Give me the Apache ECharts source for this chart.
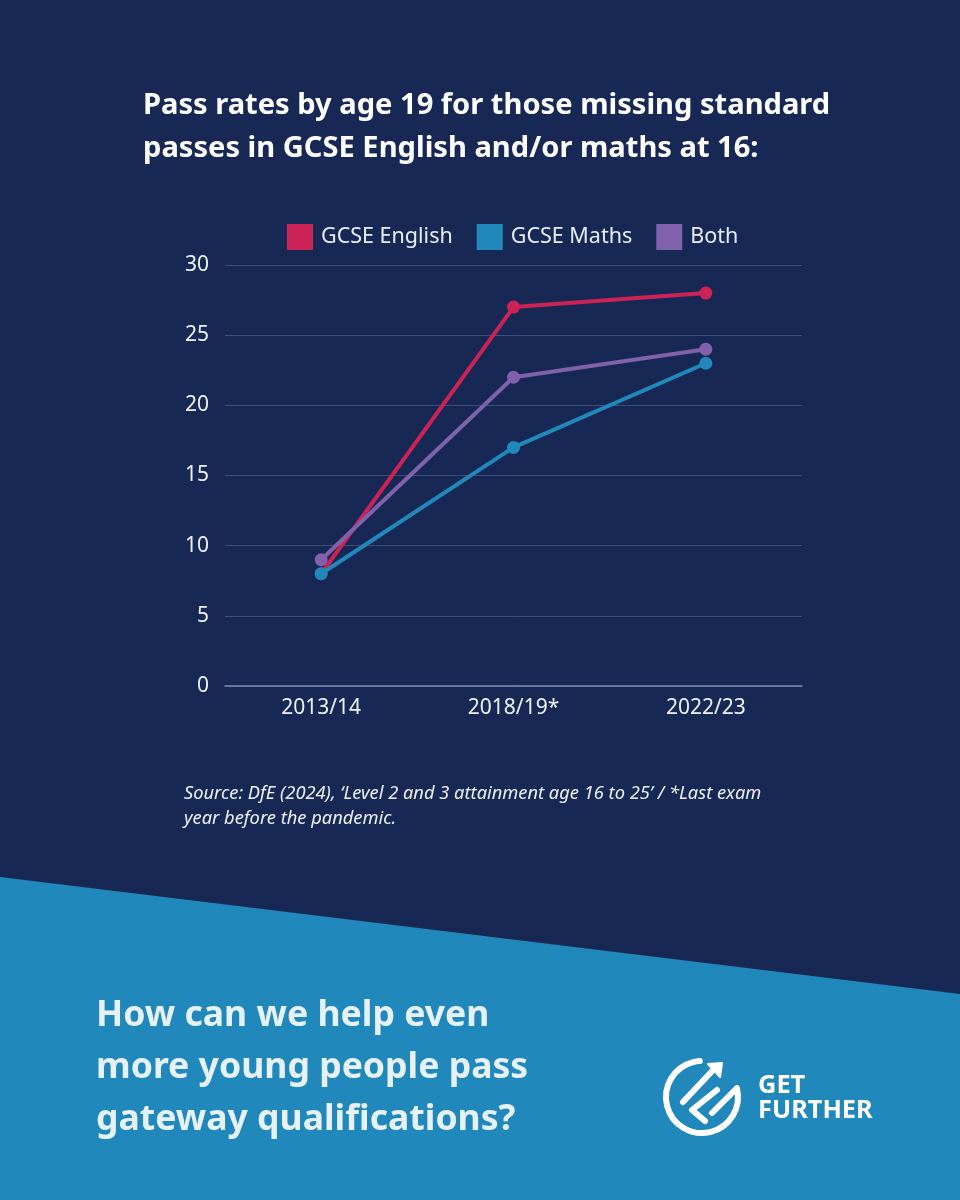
<!DOCTYPE html>
<html><head><meta charset="utf-8">
<style>html,body{margin:0;padding:0;background:#182854}#c{width:960px;height:1200px}</style>
<script src="https://cdn.jsdelivr.net/npm/echarts@6/dist/echarts.min.js"></script>
</head><body><div id="c"></div>
<script>
const categories = ['2013/14', '2018/19*', '2022/23'];
const english = [8, 27, 28];
const maths = [8, 17, 23];
const both = [9, 22, 24];
const yTicks = {min: 0, max: 30, interval: 5};
const titleLines = 'Pass rates by age 19 for those missing standard\npasses in GCSE English and/or maths at 16:';
const sourceLines = 'Source: DfE (2024), ‘Level 2 and 3 attainment age 16 to 25’ / *Last exam\nyear before the pandemic.';
const promptLines = 'How can we help even\nmore young people pass\ngateway qualifications?';
const BODY = '"Noto Sans", sans-serif';
const HEAD = '"Noto Sans", sans-serif';
const white = '#ffffff';
const mk = (name, data, color, z) => ({
  name, data, type: 'line', color, z,
  symbol: 'circle', symbolSize: 13, showSymbol: true,
  lineStyle: {width: 4, color}, itemStyle: {color}
});
const chart = echarts.init(document.getElementById('c'), null, {renderer: 'canvas', width: 960, height: 1200});
const logoStroke = {stroke: white, lineWidth: 6, lineCap: 'round', lineJoin: 'round', fill: null};
const logoLine = points => ({type: 'polyline', z: 10, shape: {points}, style: logoStroke});
chart.setOption({
  animation: false,
  backgroundColor: '#182854',
  grid: {left: 225, right: 158, top: 265, bottom: 514, containLabel: false},
  legend: {
    left: 282, top: 219, itemWidth: 26, itemHeight: 26, itemGap: 24, icon: 'rect',
    data: ['GCSE English', 'GCSE Maths', 'Both'],
    textStyle: {color: '#e8eef5', fontFamily: BODY, fontSize: 21.5, padding: [0, 0, 0, 3]}
  },
  xAxis: {
    type: 'category', data: categories, boundaryGap: true,
    axisTick: {show: false},
    axisLine: {lineStyle: {color: '#7c89ad', width: 1.5}},
    axisLabel: {color: '#eef2f7', fontFamily: BODY, fontSize: 21, margin: 12}
  },
  yAxis: {
    type: 'value', min: yTicks.min, max: yTicks.max, interval: yTicks.interval,
    axisLine: {show: false}, axisTick: {show: false},
    splitLine: {lineStyle: {color: '#3f4e78', width: 1}},
    axisLabel: {color: '#eef2f7', fontFamily: BODY, fontSize: 21, margin: 16, lineHeight: 21, padding: [5, 0, 0, 0]}
  },
  series: [mk('GCSE English', english, '#cb2356', 3), mk('GCSE Maths', maths, '#2188bc', 4), mk('Both', both, '#7f62ab', 5)],
  graphic: [
    {type: 'text', left: 143, top: 84, z: 10, style: {text: titleLines, fill: white, font: '700 29.1px ' + HEAD, lineHeight: 43}},
    {type: 'text', left: 184, top: 781, z: 10, style: {text: sourceLines, fill: '#eef2f7', font: 'italic 400 18.3px ' + BODY, lineHeight: 25}},
    {type: 'polygon', z: 1, shape: {points: [[0, 877], [960, 994], [960, 1200], [0, 1200]]}, style: {fill: '#2188bc'}},
    {type: 'text', left: 96, top: 990, z: 10, style: {text: promptLines, fill: '#e6f2f8', font: '700 35.6px ' + HEAD, lineHeight: 52}},
    {type: 'arc', z: 10, shape: {cx: 702, cy: 1097, r: 36, startAngle: -0.25, endAngle: 4.65, clockwise: true}, style: logoStroke},
    logoLine([[683, 1102], [715, 1068]]),
    {type: 'polygon', z: 10, shape: {points: [[708, 1064], [722, 1063], [720, 1077]]}, style: {fill: white, stroke: white, lineWidth: 2, lineJoin: 'round'}},
    logoLine([[717, 1090], [692, 1110], [705, 1121]]),
    logoLine([[712, 1113], [735, 1090]]),
    {type: 'text', left: 758, top: 1073, z: 10, style: {text: 'GET\nFURTHER', fill: white, font: '700 25.4px ' + HEAD, lineHeight: 25}}
  ]
});
</script></body></html>
